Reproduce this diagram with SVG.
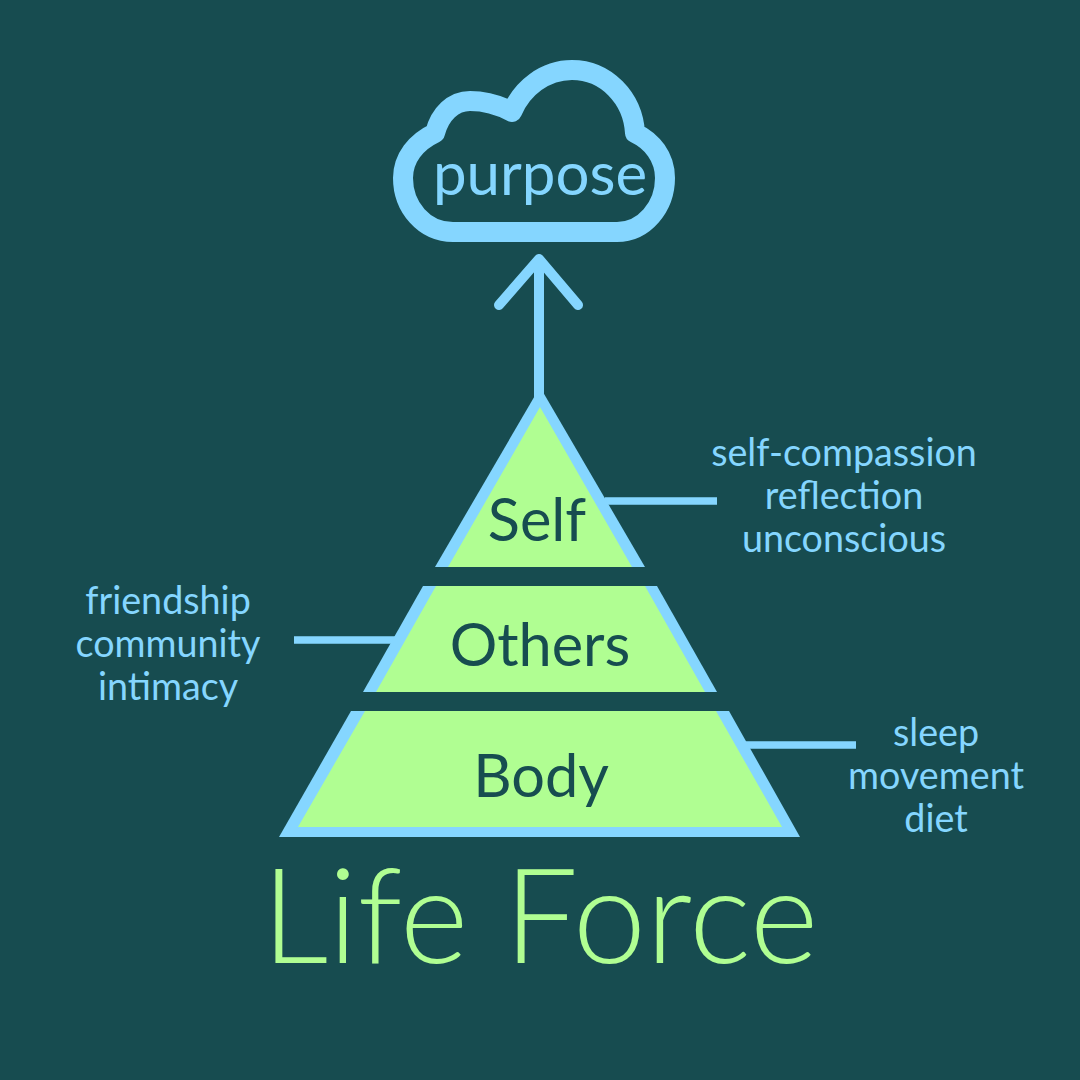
<svg xmlns="http://www.w3.org/2000/svg" width="1080" height="1080" viewBox="0 0 1080 1080">
<style>
.l{font-family:Lato,"Open Sans",sans-serif;font-size:37.7px;fill:#85d6ff;text-anchor:middle}
.t{font-family:Lato,"Open Sans",sans-serif;font-size:59.5px;fill:#174d50;text-anchor:middle}
.o{fill:#85d6ff}
.i{fill:#b0fe92}
.c{fill:none;stroke:#85d6ff;stroke-width:7.5}
</style>
<rect width="1080" height="1080" fill="#174c50"/>
<g id="connectors" class="c">
<path d="M539 400V260" stroke-width="10"/>
<path d="M499 305L539 259L578 305" stroke-width="10" stroke-linejoin="round" stroke-linecap="round"/>
<path d="M605 501H717M294 640H398M746 745H856"/>
</g>
<g id="cloud">
<path d="M453 232H617C644 232 665 207 665 178C665 157 652 141 635 133C633 98 606 70 572 70C545 70 522 88 512 112C499 105 486 101 470 101C453 101 440 114 435 133C416 142 403 158 403 178C403 207 424 232 453 232Z" fill="none" stroke="#85d6ff" stroke-width="20" stroke-linejoin="round"/>
<text class="l" x="540" y="195" style="font-size:60px">purpose</text>
</g>
<g id="self"><path class="o" d="M540 387L645 567H435Z"/><path class="i" d="M540 407L632 567H448Z"/><text class="t" x="537" y="541">Self</text></g>
<g id="others"><path class="o" d="M423 586H657L717 692H363Z"/><path class="i" d="M436 586H645L705 692H376Z"/><text class="t" x="540" y="665.5">Others</text></g>
<g id="body"><path class="o" d="M351 711H729L800 837H279Z"/><path class="i" d="M365 711H716L782 827H298Z"/><text class="t" x="541" y="796.5">Body</text></g>
<g id="label-self"><text class="l" x="844" y="465.5">self-compassion</text><text class="l" x="844" y="508.5">reflection</text><text class="l" x="844" y="551.5">unconscious</text></g>
<g id="label-others"><text class="l" x="168" y="613.5">friendship</text><text class="l" x="168" y="656.5">community</text><text class="l" x="168" y="700">intimacy</text></g>
<g id="label-body"><text class="l" x="936" y="745.5">sleep</text><text class="l" x="936" y="788.5">movement</text><text class="l" x="936" y="831.5">diet</text></g>
<text id="title" x="540" y="963" style="font-family:Lato,sans-serif;font-weight:300;font-size:131.5px;fill:#b0fe92;text-anchor:middle">Life Force</text>
</svg>
